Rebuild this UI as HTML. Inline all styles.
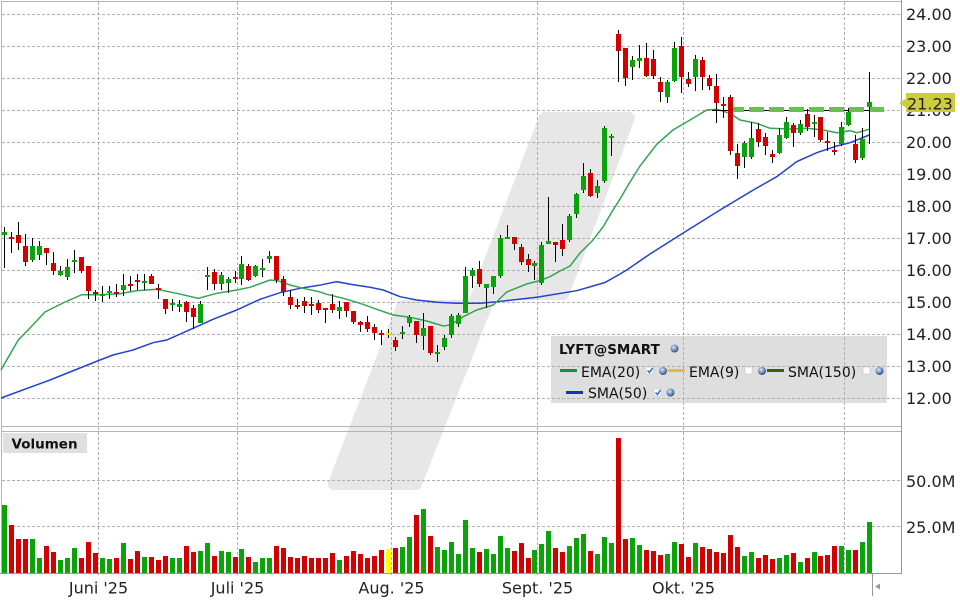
<!DOCTYPE html>
<html><head><meta charset="utf-8"><style>
html,body{margin:0;padding:0;background:#fff;width:960px;height:600px;overflow:hidden}
svg{display:block}
</style></head><body>
<svg width="960" height="600" viewBox="0 0 960 600" xmlns="http://www.w3.org/2000/svg" font-family="'DejaVu Sans','Liberation Sans',sans-serif">
<defs>
<radialGradient id="gl" cx="40%" cy="35%" r="65%"><stop offset="0" stop-color="#dfe9f5"/><stop offset="0.5" stop-color="#7f9cc4"/><stop offset="1" stop-color="#2f4f80"/></radialGradient>
</defs>
<!-- watermark band -->
<path d="M544.7 118 L628.7 118 L563.3 294 L490.9 294 L415.9 484 L333.8 484 L402.5 306 L472.9 306 Z" fill="#e7e7e7" stroke="#e7e7e7" stroke-width="12" stroke-linejoin="round"/>
<!-- legend background -->
<rect x="551" y="336" width="336" height="67" fill="#dedede"/>
<!-- grid -->
<g stroke="#b0b0b0" stroke-width="1" stroke-dasharray="3 2" shape-rendering="crispEdges">
<path d="M2 14.5H901M2 46.5H901M2 78.5H901M2 110.5H901M2 142.5H901M2 174.5H901M2 206.5H901M2 238.5H901M2 270.5H901M2 302.5H901M2 334.5H901M2 366.5H901M2 398.5H901M2 480.5H901M2 526.5H901"/>
<path d="M98.5 2V577M237.5 2V577M391.5 2V577M537.5 2V577M683.5 2V577M844.5 2V577"/>
</g>
<!-- borders -->
<g stroke="#b4b4b4" stroke-width="1" shape-rendering="crispEdges" fill="none">
<path d="M1 1.5H902M1.5 1V573M1 426.5H901M1 431.5H901"/>
</g>
<g stroke="#999" stroke-width="1" shape-rendering="crispEdges" fill="none">
<path d="M901.5 0V574M0 573.5H902M872.5 574V596"/>
</g>
<path d="M875 586.5 L880 583.5 L880 589.5 Z" fill="#999"/>
<!-- MA lines -->
<polyline fill="none" stroke="#2244cc" stroke-width="1.5" points="1,398 50,380 100,360 113,355 133,350 153,342.7 166.7,340 193,328.3 213,319.3 236.7,310 260,299.3 280,292.7 300,288.3 319,285.3 336.7,281.7 353.3,284.7 370,287.3 383.3,290 400,296.7 416.7,300 436.7,302.3 456.7,303.3 480,303.3 496.7,301.7 536.7,297.3 576.7,290.7 605,282.5 620,274 626.7,270 650,254 680,235 720,210 753.3,190 776.7,176.7 796.7,161.7 816.7,152.7 836.7,146 850,142.7 869.3,135"/>
<polyline fill="none" stroke="#34a552" stroke-width="1.5" points="1,370 6.7,360 18.3,340 30,328 45,312 63,303 81.7,294.7 100,294.7 120,293.7 136.7,290.7 156.7,289.3 176.7,293.3 198.3,298.3 216.7,293.3 236.7,290 250,287.3 270,280 278,280.7 290,285 303,288.3 319,291.7 326.7,294.3 343.3,298.3 360,303.3 376.7,309.3 393.3,315 410,317.3 426.7,321 443.3,326 450,325 463.3,316.7 476.7,310 493.3,305 506.7,292 526.7,284 540,280.5 550,276.7 560,271 570,266 580,253 593,240 603,227 613,210 620,199 630,182 640,166 650,153 657,144 673,130 690,120 706.7,110 716.7,109.3 730,113.3 740,120 756.7,123.3 770,128.3 790,129 806.7,128.3 823.3,130 836.7,132.7 850,130.7 856.7,132.7 869.3,129.3"/>
<!-- horizontal lines -->
<path d="M712 110.5H870" stroke="#000" stroke-width="1" shape-rendering="crispEdges"/>
<path d="M729 109.5H884" stroke="#63c44c" stroke-width="5" stroke-dasharray="15 5" shape-rendering="crispEdges"/>
<!-- wicks -->
<path stroke="#000" stroke-width="1" shape-rendering="crispEdges" fill="none" d="M4.5 227V268M11.5 232V253M18.5 222V250M25.5 234V266M32.5 238V262M39.5 241V260M46.5 248V265M53.5 252V275M60.5 266V276M67.5 259V280M74.5 250V273M81.5 257V273M88.5 266V299M95.5 290V301M102.5 286V302M109.5 286V299M116.5 284V297M123.5 274V296M130.5 276V291M137.5 274V290M144.5 274V290M151.5 274V284M158.5 284V299M165.5 299V314M172.5 299V311M179.5 300V312M186.5 301V322M193.5 305V329M200.5 301V323M207.5 267V290M214.5 269V290M221.5 272V290M228.5 277V293M235.5 271V283M241.5 256V285M248.5 264V281M255.5 265V277M262.5 259V277M269.5 251V263M276.5 256V283M283.5 276V296M290.5 290V309M297.5 299V309M304.5 297V313M311.5 297V315M318.5 300V313M325.5 308V323M332.5 294V313M339.5 301V319M346.5 302V317M353.5 311V324M360.5 321V332M367.5 316V332M374.5 324V340M381.5 330V345M388.5 329V338M395.5 337V351M402.5 326V339M409.5 315V327M416.5 321V343M423.5 313V350M430.5 326V355M437.5 345V362M444.5 335V350M451.5 314V338M458.5 313V327M465.5 267V313M472.5 268V288M479.5 261V287M486.5 284V308M493.5 276V294M500.5 235V278M507.5 225V239M514.5 237V250M521.5 244V265M528.5 254V272M534.5 261V280M541.5 242V285M548.5 197V244M555.5 242V262M562.5 224V256M569.5 214V242M576.5 193V218M583.5 163V193M590.5 169V197M597.5 180V198M604.5 126V183M611.5 134V156M618.5 30V82M625.5 48V86M632.5 56V80M639.5 45V68M646.5 43V77M653.5 50V79M660.5 77V102M667.5 80V103M674.5 42V82M681.5 37V93M688.5 72V87M695.5 55V91M702.5 57V90M709.5 75V90M716.5 74V123M723.5 97V118M730.5 95V155M737.5 144V179M744.5 141V168M751.5 122V159M758.5 123V147M765.5 133V155M772.5 150V163M779.5 128V154M786.5 117V139M793.5 123V147M800.5 120V135M807.5 109V131M814.5 115V137M820.5 117V142M827.5 132V151M834.5 142V155M841.5 122V146M848.5 108V126M855.5 135V163M862.5 128V160M869.5 72V144"/>
<!-- red bodies -->
<g fill="#d40000" shape-rendering="crispEdges">
<rect x="9" y="237" width="5" height="2"/><rect x="16" y="235" width="5" height="8"/><rect x="23" y="246" width="5" height="16"/><rect x="44" y="248" width="5" height="5"/><rect x="51" y="263" width="5" height="8"/><rect x="79" y="257" width="5" height="14"/><rect x="86" y="266" width="5" height="25"/><rect x="93" y="292" width="5" height="2"/><rect x="114" y="292" width="5" height="2"/><rect x="128" y="284" width="5" height="2"/><rect x="135" y="280" width="5" height="2"/><rect x="149" y="276" width="5" height="8"/><rect x="156" y="288" width="5" height="2"/><rect x="163" y="299" width="5" height="10"/><rect x="184" y="302" width="5" height="10"/><rect x="191" y="308" width="5" height="9"/><rect x="212" y="272" width="5" height="12"/><rect x="233" y="277" width="5" height="2"/><rect x="246" y="266" width="5" height="14"/><rect x="274" y="256" width="5" height="24"/><rect x="281" y="279" width="5" height="13"/><rect x="288" y="297" width="5" height="8"/><rect x="295" y="305" width="5" height="2"/><rect x="302" y="301" width="5" height="5"/><rect x="309" y="304" width="5" height="2"/><rect x="316" y="303" width="5" height="7"/><rect x="323" y="308" width="5" height="2"/><rect x="330" y="304" width="5" height="6"/><rect x="344" y="302" width="5" height="9"/><rect x="351" y="311" width="5" height="11"/><rect x="358" y="322" width="5" height="3"/><rect x="365" y="322" width="5" height="7"/><rect x="372" y="327" width="5" height="6"/><rect x="379" y="333" width="5" height="2"/><rect x="393" y="340" width="5" height="7"/><rect x="414" y="321" width="5" height="14"/><rect x="428" y="326" width="5" height="27"/><rect x="477" y="269" width="5" height="15"/><rect x="512" y="237" width="5" height="7"/><rect x="519" y="247" width="5" height="15"/><rect x="526" y="259" width="5" height="6"/><rect x="553" y="242" width="5" height="3"/><rect x="560" y="240" width="5" height="9"/><rect x="588" y="173" width="5" height="23"/><rect x="616" y="34" width="5" height="17"/><rect x="623" y="48" width="5" height="30"/><rect x="644" y="58" width="5" height="18"/><rect x="651" y="59" width="5" height="17"/><rect x="658" y="82" width="5" height="10"/><rect x="679" y="46" width="5" height="31"/><rect x="686" y="79" width="5" height="5"/><rect x="700" y="60" width="5" height="17"/><rect x="707" y="78" width="5" height="8"/><rect x="714" y="86" width="5" height="17"/><rect x="721" y="104" width="5" height="2"/><rect x="728" y="97" width="5" height="54"/><rect x="735" y="153" width="5" height="13"/><rect x="756" y="129" width="5" height="13"/><rect x="763" y="137" width="5" height="9"/><rect x="770" y="154" width="5" height="3"/><rect x="791" y="125" width="5" height="8"/><rect x="805" y="114" width="5" height="13"/><rect x="818" y="117" width="5" height="23"/><rect x="825" y="141" width="5" height="2"/><rect x="832" y="150" width="5" height="2"/><rect x="853" y="144" width="5" height="16"/>
</g>
<!-- green bodies -->
<g fill="#0aa30a" shape-rendering="crispEdges">
<rect x="2" y="232" width="5" height="3"/><rect x="30" y="246" width="5" height="14"/><rect x="37" y="246" width="5" height="9"/><rect x="58" y="271" width="5" height="4"/><rect x="65" y="267" width="5" height="10"/><rect x="72" y="260" width="5" height="2"/><rect x="100" y="294" width="5" height="2"/><rect x="107" y="291" width="5" height="2"/><rect x="121" y="285" width="5" height="5"/><rect x="142" y="281" width="5" height="2"/><rect x="170" y="303" width="5" height="2"/><rect x="177" y="304" width="5" height="3"/><rect x="198" y="304" width="5" height="19"/><rect x="205" y="275" width="5" height="2"/><rect x="219" y="275" width="5" height="9"/><rect x="226" y="279" width="5" height="4"/><rect x="239" y="264" width="5" height="15"/><rect x="253" y="266" width="5" height="10"/><rect x="260" y="268" width="5" height="2"/><rect x="267" y="256" width="5" height="3"/><rect x="337" y="307" width="5" height="4"/><rect x="400" y="332" width="5" height="2"/><rect x="407" y="317" width="5" height="6"/><rect x="421" y="328" width="5" height="8"/><rect x="435" y="352" width="5" height="2"/><rect x="442" y="338" width="5" height="9"/><rect x="449" y="316" width="5" height="19"/><rect x="456" y="315" width="5" height="9"/><rect x="463" y="276" width="5" height="37"/><rect x="470" y="270" width="5" height="6"/><rect x="484" y="284" width="5" height="4"/><rect x="491" y="276" width="5" height="11"/><rect x="498" y="238" width="5" height="38"/><rect x="505" y="237" width="5" height="2"/><rect x="532" y="263" width="5" height="3"/><rect x="539" y="245" width="5" height="38"/><rect x="546" y="241" width="5" height="3"/><rect x="567" y="216" width="5" height="24"/><rect x="574" y="194" width="5" height="20"/><rect x="581" y="176" width="5" height="14"/><rect x="595" y="186" width="5" height="7"/><rect x="602" y="128" width="5" height="53"/><rect x="609" y="136" width="5" height="2"/><rect x="630" y="60" width="5" height="7"/><rect x="637" y="58" width="5" height="3"/><rect x="665" y="82" width="5" height="15"/><rect x="672" y="48" width="5" height="33"/><rect x="693" y="59" width="5" height="18"/><rect x="742" y="143" width="5" height="14"/><rect x="749" y="138" width="5" height="19"/><rect x="777" y="135" width="5" height="18"/><rect x="784" y="122" width="5" height="16"/><rect x="798" y="124" width="5" height="9"/><rect x="812" y="122" width="5" height="2"/><rect x="839" y="127" width="5" height="17"/><rect x="846" y="112" width="5" height="13"/><rect x="860" y="139" width="5" height="19"/><rect x="867" y="102" width="5" height="5"/>
</g>
<rect x="386" y="333" width="5" height="2" fill="#f0e000" shape-rendering="crispEdges"/>
<!-- volume red -->
<g fill="#d40000" shape-rendering="crispEdges">
<rect x="9" y="525" width="5" height="48"/><rect x="16" y="539" width="5" height="34"/><rect x="23" y="539" width="5" height="34"/><rect x="44" y="546" width="5" height="27"/><rect x="51" y="552" width="5" height="21"/><rect x="79" y="558" width="5" height="15"/><rect x="86" y="542" width="5" height="31"/><rect x="93" y="553" width="5" height="20"/><rect x="114" y="558" width="5" height="15"/><rect x="128" y="559" width="5" height="14"/><rect x="135" y="551" width="5" height="22"/><rect x="149" y="557" width="5" height="16"/><rect x="156" y="560" width="5" height="13"/><rect x="163" y="556" width="5" height="17"/><rect x="184" y="546" width="5" height="27"/><rect x="191" y="552" width="5" height="21"/><rect x="212" y="556" width="5" height="17"/><rect x="233" y="557" width="5" height="16"/><rect x="246" y="557" width="5" height="16"/><rect x="274" y="546" width="5" height="27"/><rect x="281" y="548" width="5" height="25"/><rect x="288" y="557" width="5" height="16"/><rect x="295" y="558" width="5" height="15"/><rect x="302" y="556" width="5" height="17"/><rect x="309" y="558" width="5" height="15"/><rect x="316" y="558" width="5" height="15"/><rect x="323" y="558" width="5" height="15"/><rect x="330" y="553" width="5" height="20"/><rect x="344" y="556" width="5" height="17"/><rect x="351" y="551" width="5" height="22"/><rect x="358" y="554" width="5" height="19"/><rect x="365" y="558" width="5" height="15"/><rect x="372" y="556" width="5" height="17"/><rect x="379" y="550" width="5" height="23"/><rect x="393" y="548" width="5" height="25"/><rect x="414" y="515" width="5" height="58"/><rect x="428" y="536" width="5" height="37"/><rect x="477" y="552" width="5" height="21"/><rect x="512" y="551" width="5" height="22"/><rect x="519" y="543" width="5" height="30"/><rect x="526" y="558" width="5" height="15"/><rect x="553" y="548" width="5" height="25"/><rect x="560" y="552" width="5" height="21"/><rect x="588" y="551" width="5" height="22"/><rect x="616" y="438" width="5" height="135"/><rect x="623" y="539" width="5" height="34"/><rect x="644" y="550" width="5" height="23"/><rect x="651" y="551" width="5" height="22"/><rect x="658" y="555" width="5" height="18"/><rect x="679" y="544" width="5" height="29"/><rect x="686" y="557" width="5" height="16"/><rect x="700" y="547" width="5" height="26"/><rect x="707" y="549" width="5" height="24"/><rect x="714" y="552" width="5" height="21"/><rect x="721" y="553" width="5" height="20"/><rect x="728" y="535" width="5" height="38"/><rect x="735" y="547" width="5" height="26"/><rect x="756" y="558" width="5" height="15"/><rect x="763" y="555" width="5" height="18"/><rect x="770" y="559" width="5" height="14"/><rect x="791" y="553" width="5" height="20"/><rect x="805" y="558" width="5" height="15"/><rect x="818" y="556" width="5" height="17"/><rect x="825" y="555" width="5" height="18"/><rect x="832" y="546" width="5" height="27"/><rect x="853" y="550" width="5" height="23"/>
</g>
<!-- volume green -->
<g fill="#0aa30a" shape-rendering="crispEdges">
<rect x="2" y="505" width="5" height="68"/><rect x="30" y="539" width="5" height="34"/><rect x="37" y="558" width="5" height="15"/><rect x="58" y="560" width="5" height="13"/><rect x="65" y="558" width="5" height="15"/><rect x="72" y="548" width="5" height="25"/><rect x="100" y="558" width="5" height="15"/><rect x="107" y="559" width="5" height="14"/><rect x="121" y="543" width="5" height="30"/><rect x="142" y="557" width="5" height="16"/><rect x="170" y="558" width="5" height="15"/><rect x="177" y="558" width="5" height="15"/><rect x="198" y="551" width="5" height="22"/><rect x="205" y="543" width="5" height="30"/><rect x="219" y="551" width="5" height="22"/><rect x="226" y="552" width="5" height="21"/><rect x="239" y="549" width="5" height="24"/><rect x="253" y="562" width="5" height="11"/><rect x="260" y="558" width="5" height="15"/><rect x="267" y="558" width="5" height="15"/><rect x="337" y="560" width="5" height="13"/><rect x="400" y="547" width="5" height="26"/><rect x="407" y="537" width="5" height="36"/><rect x="421" y="509" width="5" height="64"/><rect x="435" y="547" width="5" height="26"/><rect x="442" y="550" width="5" height="23"/><rect x="449" y="542" width="5" height="31"/><rect x="456" y="554" width="5" height="19"/><rect x="463" y="520" width="5" height="53"/><rect x="470" y="548" width="5" height="25"/><rect x="484" y="549" width="5" height="24"/><rect x="491" y="554" width="5" height="19"/><rect x="498" y="536" width="5" height="37"/><rect x="505" y="548" width="5" height="25"/><rect x="532" y="550" width="5" height="23"/><rect x="539" y="544" width="5" height="29"/><rect x="546" y="531" width="5" height="42"/><rect x="567" y="546" width="5" height="27"/><rect x="574" y="538" width="5" height="35"/><rect x="581" y="534" width="5" height="39"/><rect x="595" y="554" width="5" height="19"/><rect x="602" y="537" width="5" height="36"/><rect x="609" y="543" width="5" height="30"/><rect x="630" y="538" width="5" height="35"/><rect x="637" y="545" width="5" height="28"/><rect x="665" y="554" width="5" height="19"/><rect x="672" y="542" width="5" height="31"/><rect x="693" y="543" width="5" height="30"/><rect x="742" y="556" width="5" height="17"/><rect x="749" y="552" width="5" height="21"/><rect x="777" y="558" width="5" height="15"/><rect x="784" y="555" width="5" height="18"/><rect x="798" y="562" width="5" height="11"/><rect x="812" y="552" width="5" height="21"/><rect x="839" y="546" width="5" height="27"/><rect x="846" y="550" width="5" height="23"/><rect x="860" y="542" width="5" height="31"/><rect x="867" y="522" width="5" height="51"/>
</g>
<rect x="386" y="549" width="5" height="24" fill="#ffff00" shape-rendering="crispEdges"/>
<!-- right axis labels -->
<g font-size="16" fill="#222">
<text x="906" y="20">24.00</text><text x="906" y="52">23.00</text><text x="906" y="84">22.00</text><text x="906" y="116">21.00</text><text x="906" y="148">20.00</text><text x="906" y="180">19.00</text><text x="906" y="212">18.00</text><text x="906" y="244">17.00</text><text x="906" y="276">16.00</text><text x="906" y="308">15.00</text><text x="906" y="340">14.00</text><text x="906" y="372">13.00</text><text x="906" y="404">12.00</text>
<text x="906" y="487">50.0M</text><text x="906" y="533">25.0M</text>
</g>
<!-- x axis labels -->
<g font-size="16" fill="#222" text-anchor="middle">
<text x="98.5" y="593.5">Juni '25</text><text x="237.5" y="593.5">Juli '25</text><text x="391.5" y="593.5">Aug. '25</text><text x="537.5" y="593.5">Sept. '25</text><text x="683.5" y="593.5">Okt. '25</text>
</g>
<!-- price marker -->
<path d="M899 103 L906 98.5 V93 H955 V112 H906 V107.5 Z" fill="#cdcd3c"/>
<text x="907" y="109.5" font-size="16" fill="#222">21.23</text>
<!-- Volumen label -->
<rect x="3" y="433" width="84" height="20" fill="#e0e0e0"/>
<text x="11.5" y="448.5" font-size="13.5" font-weight="bold" fill="#111">Volumen</text>
<!-- legend -->
<text x="559" y="354" font-size="13.5" font-weight="bold" fill="#111">LYFT@SMART</text>
<circle cx="674.5" cy="348.5" r="4" fill="url(#gl)"/>
<g shape-rendering="crispEdges">
<rect x="560" y="369" width="17" height="3" fill="#1a8c3c"/>
<rect x="668" y="369" width="17" height="3" fill="#e8b45a"/>
<rect x="767" y="369" width="17" height="3" fill="#3b5e0f"/>
<rect x="566" y="391" width="17" height="3" fill="#1232c0"/>
</g>
<g font-size="14" fill="#111">
<text x="581" y="377">EMA(20)</text>
<text x="689" y="377">EMA(9)</text>
<text x="788" y="377">SMA(150)</text>
<text x="588" y="398">SMA(50)</text>
</g>
<g fill="#fff" stroke="#bbb" stroke-width="0.5">
<rect x="646" y="367" width="7" height="7"/><rect x="745" y="367" width="7" height="7"/><rect x="863" y="367" width="7" height="7"/><rect x="654" y="389" width="7" height="7"/>
</g>
<g fill="none" stroke="#2a6ad0" stroke-width="1.5">
<path d="M647.5 370.5 L649.5 372.5 L652.5 368"/>
<path d="M655.5 392.5 L657.5 394.5 L660.5 390"/>
</g>
<g>
<circle cx="663" cy="371" r="4" fill="url(#gl)"/>
<circle cx="762" cy="371" r="4" fill="url(#gl)"/>
<circle cx="879.5" cy="371" r="4" fill="url(#gl)"/>
<circle cx="670.5" cy="392.5" r="4" fill="url(#gl)"/>
</g>
</svg>
</body></html>
